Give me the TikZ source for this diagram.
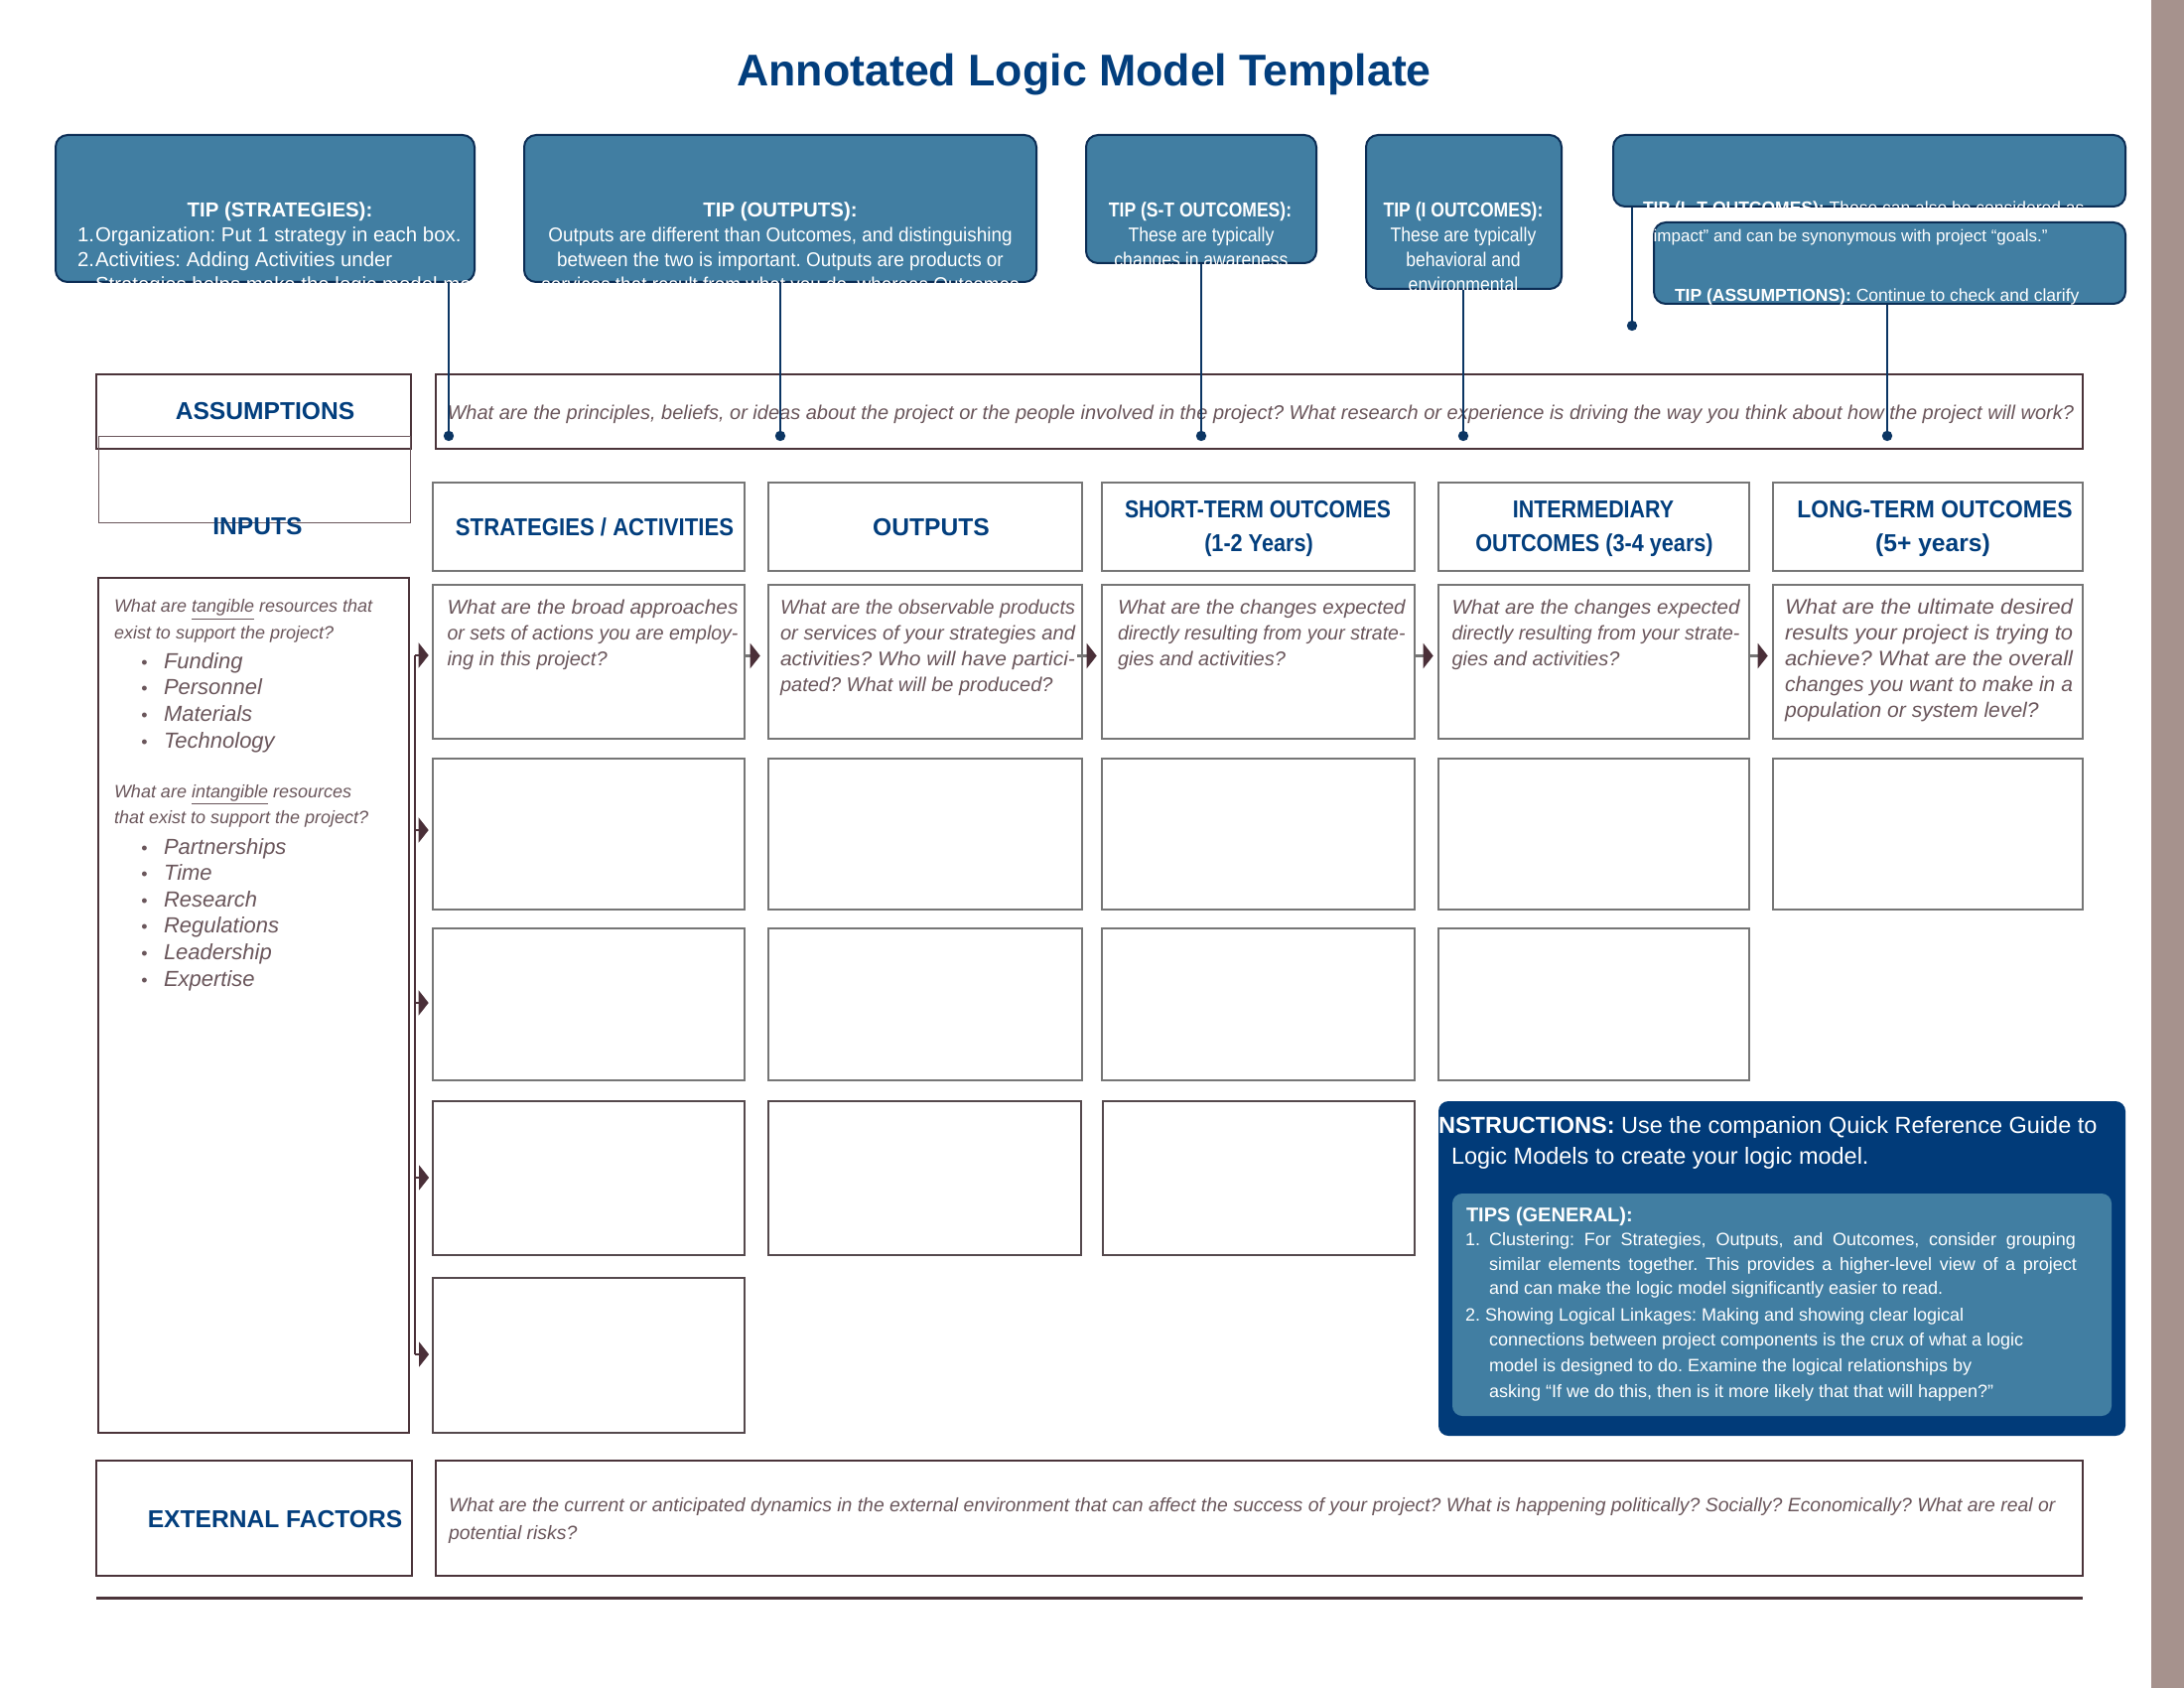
\documentclass[tikz,border=0pt]{standalone}
\usepackage{fontspec}
\setmainfont{Liberation Sans}
\usepackage{graphicx}
\usetikzlibrary{fit,arrows.meta,calc}
\frenchspacing
\newcommand{\myfs}[2]{\fontsize{#1pt}{#2pt}\selectfont}
\newcommand{\jline}[3]{\ifnum#2=1 \resizebox{#1pt}{\height}{#3}\else #3\fi}
\definecolor{navy}{HTML}{023E7D}
\definecolor{tipfill}{HTML}{417EA2}
\definecolor{tipborder}{HTML}{0B2D55}
\definecolor{lineblue}{HTML}{0B3563}
\definecolor{instblue}{HTML}{013B79}
\definecolor{mauve}{HTML}{6A565B}
\definecolor{dmauve}{HTML}{4B343A}
\definecolor{gborder}{HTML}{767676}
\definecolor{dgrey}{HTML}{55494D}
\definecolor{barcol}{HTML}{A6928D}
\definecolor{arrowc}{HTML}{4A2F38}
\begin{document}
\begin{tikzpicture}[x=0.5pt,y=-0.5pt,
  txt/.style={inner sep=0pt, outer sep=0pt, anchor=base west},
  ctxt/.style={inner sep=0pt, outer sep=0pt, anchor=base},
  tipbox/.style={draw=tipborder, fill=tipfill, line width=1pt, rounded corners=6pt, inner sep=0pt},
  gbox/.style={draw=gborder, line width=1.3pt, inner sep=0pt},
  dbox/.style={draw=dgrey, line width=0.9pt, inner sep=0pt},
  mbox/.style={draw=dmauve, line width=1.4pt, inner sep=0pt},
  thinbox/.style={draw=dmauve, line width=0.7pt, inner sep=0pt},
  tiptext/.style={ctxt, text=white, font=\myfs{10}{12}},
  tiphead/.style={ctxt, text=white, font=\myfs{10.2}{12}\bfseries},
  hdr/.style={ctxt, text=navy, font=\myfs{12.3}{14}\bfseries},
  qtext/.style={txt, text=mauve, font=\myfs{10}{12}\itshape},
  qtextb/.style={txt, text=mauve, font=\myfs{10.55}{12}\itshape},
  smallq/.style={txt, text=mauve, font=\myfs{9}{11}\itshape},
  btext/.style={txt, text=mauve, font=\myfs{11}{13}\itshape},
  bdot/.style={ctxt, text=mauve, font=\myfs{9}{11}},
  tipline/.style={draw=lineblue, line width=1.25pt},
  carrow/.style={draw=gborder, line width=1.2pt, -{Triangle[length=5pt,width=12.5pt,color=arrowc,fill=arrowc]}},
  tarrow/.style={draw=arrowc, line width=0.9pt, -{Triangle[length=5pt,width=12.5pt,color=arrowc,fill=arrowc]}, shorten >=1.5pt},
  whitetxt/.style={txt, text=white},
]
\useasboundingbox (0,0) rectangle (2200,1700);
\fill[white] (0,0) rectangle (2200,1700);
\fill[barcol] (2167,0) rectangle (2200,1700);

% title
\node[ctxt, text=navy, font=\myfs{22.35}{26}\bfseries] (title) at (1092,87) {Annotated Logic Model Template};

% tip boxes
\node[tipbox, fit={(56,136)(478,284)}] (tip1) {};
\node[tipbox, fit={(528,136)(1044,284)}] (tip2) {};
\node[tipbox, fit={(1094,136)(1326,265)}] (tip3) {};
\node[tipbox, fit={(1376,136)(1573,291)}] (tip4) {};
\node[tipbox, fit={(1625,136)(2141,208)}] (tip5) {};

% tip 1 text
\begin{scope}
\clip (56,130) rectangle (478,286);
\node[tiphead] (t1h) at (282,219) {TIP (STRATEGIES):};
\node[whitetxt, font=\myfs{10.2}{12}] (t1n1) at (78,244) {1.};
\node[whitetxt, font=\myfs{10.2}{12}] (t1a) at (96,244) {Organization: Put 1 strategy in each box.};
\node[whitetxt, font=\myfs{10.2}{12}] (t1n2) at (78,269) {2.};
\node[whitetxt, font=\myfs{10.2}{12}] (t1b) at (96,269) {Activities: Adding Activities under};
\node[whitetxt, font=\myfs{10.2}{12}] (t1c) at (96,294) {Strategies helps make the logic model more};
\end{scope}
% tip 2 text
\begin{scope}
\clip (528,130) rectangle (1044,286);
\node[tiphead] (t2h) at (786,219) {TIP (OUTPUTS):};
\node[tiptext] (t2a) at (786,244) {\scalebox{0.945}[1]{Outputs are different than Outcomes, and distinguishing}};
\node[tiptext] (t2b) at (786,269) {\scalebox{0.945}[1]{between the two is important. Outputs are products or}};
\node[tiptext] (t2c) at (786,294) {\scalebox{0.945}[1]{services that result from what you do, whereas Outcomes}};
\end{scope}
% tip 3 text
\begin{scope}
\clip (1094,130) rectangle (1326,267);
\node[tiphead] (t3h) at (1209,219) {\scalebox{0.86}[1]{TIP (S-T OUTCOMES):}};
\node[tiptext] (t3a) at (1210,244) {\scalebox{0.88}[1]{These are typically}};
\node[tiptext] (t3b) at (1210,269) {\scalebox{0.88}[1]{changes in awareness}};
\end{scope}
% tip 4 text
\begin{scope}
\clip (1376,130) rectangle (1573,293);
\node[tiphead] (t4h) at (1474,219) {\scalebox{0.86}[1]{TIP (I OUTCOMES):}};
\node[tiptext] (t4a) at (1474,244) {\scalebox{0.88}[1]{These are typically}};
\node[tiptext] (t4b) at (1474,269) {\scalebox{0.88}[1]{behavioral and}};
\node[tiptext] (t4c) at (1474,294) {\scalebox{0.88}[1]{environmental}};
\end{scope}
% tip 5 text
\begin{scope}
\clip (1625,130) rectangle (2141,209.5);
\node[whitetxt, font=\myfs{8.75}{11}] (t5a) at (1655,216) {\textbf{TIP (L-T OUTCOMES):} These can also be considered as};
\end{scope}

\node[tipbox, fit={(1666,224)(2141,306)}] (tip6) {};
\begin{scope}
\clip (1666,220) rectangle (2141,307.5);
\node[whitetxt, font=\myfs{8.5}{11}] (t5b) at (1660,244) {“impact” and can be synonymous with project “goals.”};
\node[whitetxt, font=\myfs{8.75}{11}] (t6a) at (1687,304) {\textbf{TIP (ASSUMPTIONS):} Continue to check and clarify};
\end{scope}

% assumptions
\node[mbox, fit={(97,377)(414,452)}] (asmL) {};
\node[thinbox, draw=mauve, line width=0.5pt, fit={(99,440)(413,527)}] (inHead) {};
\node[mbox, fit={(439,377)(2098,452)}] (asmR) {};
\node[hdr] (asmT) at (267,423) {ASSUMPTIONS};
\node[txt, text=mauve, font=\myfs{10}{12}\itshape] (asmQ) at (450.6,423) {What are the principles, beliefs, or ideas about the project or the people involved in the project? What research or experience is driving the way you think about how the project will work?};

% tip connectors
\coordinate (d1) at (452,439);
\coordinate (d2) at (786,439);
\coordinate (d3) at (1210,439);
\coordinate (d4) at (1474,439);
\coordinate (d5) at (1644,328);
\coordinate (d6) at (1901,439);
\foreach \i in {1,...,6} {
  \draw[tipline] (tip\i.south -| d\i) -- (d\i);
  \fill[lineblue] (d\i) circle[radius=2.6pt];
}

% inputs
\node[hdr] (inT) at (259.5,539) {INPUTS};
\node[thinbox, fit={(99,582)(412,1443)}] (inBox) {};

% column headers and grid
\foreach \c/\xa/\xb in {1/436/750,2/774/1090,3/1110/1425,4/1449/1762,5/1786/2098} {
  \node[gbox, fit={(\xa,486)(\xb,575)}] (h\c) {};
  \node[gbox, fit={(\xa,589)(\xb,744)}] (r1c\c) {};
  \node[gbox, fit={(\xa,764)(\xb,916)}] (r2c\c) {};
}
\foreach \c/\xa/\xb in {1/436/750,2/774/1090,3/1110/1425,4/1449/1762}
  \node[gbox, fit={(\xa,935)(\xb,1088)}] (r3c\c) {};
\foreach \c/\xa/\xb in {1/436/750,2/774/1089,3/1111/1425}
  \node[dbox, fit={(\xa,1109)(\xb,1264)}] (r4c\c) {};
\node[dbox, fit={(436,1287)(750,1443)}] (r5c1) {};

\node[hdr] (h1T) at (599,540) {\scalebox{0.9}[1]{STRATEGIES / ACTIVITIES}};
\node[hdr] (h2T) at (938,540) {OUTPUTS};
\node[hdr] (h3Ta) at (1267,522) {\scalebox{0.86}[1]{SHORT-TERM OUTCOMES}};
\node[hdr] (h3Tb) at (1268,556) {\scalebox{0.88}[1]{(1-2 Years)}};
\node[hdr] (h4Ta) at (1605,522) {\scalebox{0.87}[1]{INTERMEDIARY}};
\node[hdr] (h4Tb) at (1606,556) {\scalebox{0.88}[1]{OUTCOMES (3-4 years)}};
\node[hdr] (h5Ta) at (1949,522) {\scalebox{0.93}[1]{LONG-TERM OUTCOMES}};
\node[hdr] (h5Tb) at (1947,556) {(5+ years)};

% row 1 questions (lines fitted to the box width)
\foreach \t/\j [count=\i] in {{What are the broad approaches}/1,{or sets of actions you are employ-}/1,{ing in this project?}/0}
  \node[qtext] (qa\i) at (450.5,{618+26.2*(\i-1)}) {\jline{146.5}{\j}{\t}};
\foreach \t/\j [count=\i] in {{What are the observable products}/1,{or services of your strategies and}/1,{activities? Who will have partici-}/1,{pated? What will be produced?}/0}
  \node[qtext] (qb\i) at (786,{618+26.2*(\i-1)}) {\jline{148.5}{\j}{\t}};
\foreach \t/\j [count=\i] in {{What are the changes expected}/1,{directly resulting from your strate-}/1,{gies and activities?}/0}
  \node[qtext] (qc\i) at (1126,{618+26.2*(\i-1)}) {\jline{144.8}{\j}{\t}};
\foreach \t/\j [count=\i] in {{What are the changes expected}/1,{directly resulting from your strate-}/1,{gies and activities?}/0}
  \node[qtext] (qd\i) at (1462.5,{618+26.2*(\i-1)}) {\jline{145}{\j}{\t}};
\foreach \t/\j [count=\i] in {{What are the ultimate desired}/1,{results your project is trying to}/1,{achieve? What are the overall}/1,{changes you want to make in a}/1,{population or system level?}/0}
  \node[qtextb] (qe\i) at (1798,{618+26.2*(\i-1)}) {\jline{145}{\j}{\t}};

% row 1 arrows
\draw[carrow] ($(r1c1.east)+(0,-6)$) -- ($(r1c2.west)+(-7,-6)$);
\draw[carrow] ($(r1c2.east)+(-6,-6)$) -- ($(r1c3.west)+(-4,-6)$);
\draw[carrow] ($(r1c3.east)+(0,-6)$) -- ($(r1c4.west)+(-4,-6)$);
\draw[carrow] ($(r1c4.east)+(0,-6)$) -- ($(r1c5.west)+(-4,-6)$);

% inputs text
\node[smallq] (iq1) at (115,617) {What are \underline{tangible} resources that};
\node[smallq] (iq2) at (115,643) {exist to support the project?};
\foreach \t [count=\i] in {Funding,Personnel,Materials,Technology} {
  \node[bdot] (ibd\i) at (145.5,{673+26.7*(\i-1)}) {\textbullet};
  \node[btext] (ib\i) at (165,{673+26.7*(\i-1)}) {\t};
}
\node[smallq] (iq3) at (115,803) {What are \underline{intangible} resources};
\node[smallq] (iq4) at (115,829) {that exist to support the project?};
\foreach \t [count=\i] in {Partnerships,Time,Research,Regulations,Leadership,Expertise} {
  \node[bdot] (ibe\i) at (145.5,{860+26.6*(\i-1)}) {\textbullet};
  \node[btext] (ic\i) at (165,{860+26.6*(\i-1)}) {\t};
}

% trunk arrows
\coordinate (tr1) at (418,660);
\coordinate (tr2) at (418,836);
\coordinate (tr3) at (418,1010);
\coordinate (tr4) at (418,1186);
\coordinate (tr5) at (418,1364);
\draw[draw=arrowc, line width=0.9pt] (tr5) -- (tr1);
\foreach \r in {1,...,5}
  \draw[tarrow] (tr\r) -- (tr\r -| r\r c1.west);

% instructions
\node[fill=instblue, rounded corners=5pt, inner sep=0pt, fit={(1449,1109)(2141,1446)}] (inst) {};
\node[fill=tipfill, rounded corners=5pt, inner sep=0pt, fit={(1463,1202)(2127,1426)}] (tipsG) {};
\begin{scope}
\clip (1449,1109) rectangle (2141,1446);
\node[whitetxt, font=\myfs{11.75}{14}] (ins1) at (1442.5,1141) {\textbf{INSTRUCTIONS:} Use the companion Quick Reference Guide to};
\end{scope}
\node[whitetxt, font=\myfs{11.75}{14}] (ins2) at (1462,1172) {Logic Models to create your logic model.};
\node[whitetxt, font=\myfs{10}{12}\bfseries] (tg0) at (1477,1230) {TIPS (GENERAL):};
\node[whitetxt, font=\myfs{9}{11}] (tg1n) at (1476,1254) {1.};
\node[whitetxt, font=\myfs{9}{11}] (tg1) at (1500,1254) {\makebox[295.5pt][s]{Clustering: For Strategies, Outputs, and Outcomes, consider grouping}};
\node[whitetxt, font=\myfs{9}{11}] (tg2) at (1500,1279) {\makebox[296pt][s]{similar elements together. This provides a higher-level view of a project}};
\node[whitetxt, font=\myfs{9}{11}] (tg3) at (1500,1303) {and can make the logic model significantly easier to read.};
\node[whitetxt, font=\myfs{9}{11}] (tg4) at (1476,1330) {2. Showing Logical Linkages: Making and showing clear logical};
\node[whitetxt, font=\myfs{9}{11}] (tg5) at (1500,1355) {connections between project components is the crux of what a logic};
\node[whitetxt, font=\myfs{9}{11}] (tg6) at (1500,1381) {model is designed to do. Examine the logical relationships by};
\node[whitetxt, font=\myfs{9}{11}] (tg7) at (1500,1407) {asking “If we do this, then is it more likely that that will happen?”};

% external factors
\node[mbox, fit={(97,1471)(415,1587)}] (extL) {};
\node[mbox, fit={(439,1471)(2098,1587)}] (extR) {};
\node[hdr] (extT) at (277,1538) {EXTERNAL FACTORS};
\node[txt, text=mauve, font=\myfs{9.7}{11}\itshape] (extQ1) at (452,1522) {What are the current or anticipated dynamics in the external environment that can affect the success of your project? What is happening politically? Socially? Economically? What are real or};
\node[txt, text=mauve, font=\myfs{9.7}{11}\itshape] (extQ2) at (452,1550) {potential risks?};
\coordinate (ruleL) at (97,1609);
\coordinate (ruleR) at (2098,1609);
\draw[draw=dmauve, line width=1.5pt] (ruleL) -- (ruleR);
\end{tikzpicture}
\end{document}
